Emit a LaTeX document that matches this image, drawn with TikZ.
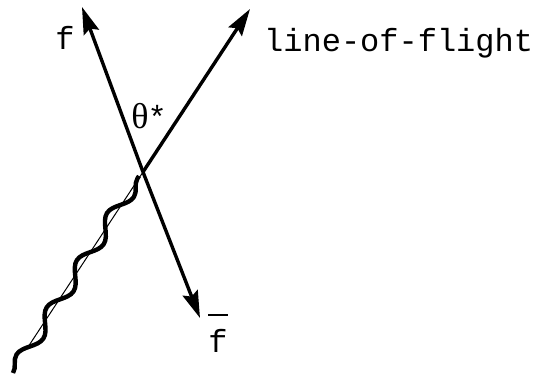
\documentclass[tikz,border=0pt]{standalone}
\usepackage{fontspec}
\setmonofont{Liberation Mono}
\newfontfamily\grkfont{Liberation Serif}
\usetikzlibrary{arrows.meta,decorations.pathmorphing}

\begin{document}
\begin{tikzpicture}[x=1pt,y=-1pt,
  axis/.style={line width=3.4pt,-{Stealth[length=27pt,width=16pt,inset=4pt]}},
  photon/.style={line width=4.4pt,decorate,decoration={snake,amplitude=7pt,segment length=56pt}},
  lbl/.style={font=\fontsize{32}{36}\selectfont\ttfamily,inner sep=0pt}]
  \useasboundingbox (0,0) rectangle (546,377);
  \coordinate (vtx) at (143,172);
  \coordinate (ftip) at (82,7);
  \coordinate (fbtip) at (200,318);
  \coordinate (loftip) at (250,9);
  \coordinate (lofend) at (28,347);
  \coordinate (gam) at (13,373);
  % quark pair
  \draw[axis] (vtx) -- (ftip);
  \draw[axis] (vtx) -- (fbtip);
  % line of flight
  \draw[axis] (vtx) -- (loftip);
  \draw[line width=1pt] (vtx) -- (lofend);
  \draw[photon] (gam) -- (139,176);
  \node[lbl] (fl) at (65,38) {f};
  \node[lbl] (fbl) at (218,333) {\rule[36pt]{20pt}{2.2pt}\kern-20pt f};
  \node[lbl,anchor=base west] (lofl) at (264,52) {line-of-flight};
  \node[lbl] (thl) at (149,116) {{\grkfont\fontsize{36}{40}\selectfont θ}\kern-1pt*};
\end{tikzpicture}
\end{document}
